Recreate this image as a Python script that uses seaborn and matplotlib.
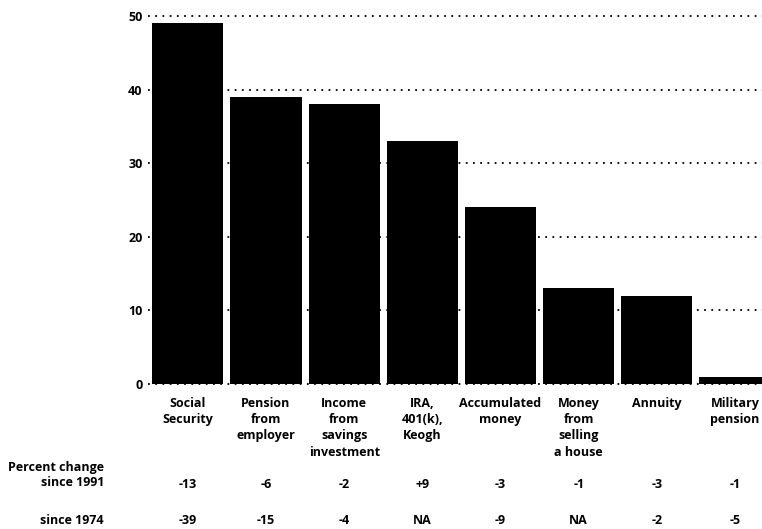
import matplotlib
matplotlib.use("Agg")
import matplotlib.pyplot as plt
import matplotlib.transforms as mtransforms
import seaborn as sns
import pandas as pd

# Share of retirees citing each source of retirement income (percent)
categories = [
    "Social\nSecurity",
    "Pension\nfrom\nemployer",
    "Income\nfrom\nsavings\ninvestment",
    "IRA,\n401(k),\nKeogh",
    "Accumulated\nmoney",
    "Money\nfrom\nselling\na house",
    "Annuity",
    "Military\npension",
]
shares = [49, 39, 38, 33, 24, 13, 12, 1]

# Percentage-point changes shown beneath each bar
change_since_1991 = ["-13", "-6", "-2", "+9", "-3", "-1", "-3", "-1"]
change_since_1974 = ["-39", "-15", "-4", "NA", "-9", "NA", "-2", "-5"]

y_ticks = [0, 10, 20, 30, 40, 50]

sns.set_theme(style="white", rc={"text.color": "black",
                                 "ytick.color": "black",
                                 "xtick.color": "black"})
plt.rcParams["font.family"] = ["Open Sans", "DejaVu Sans"]

FS = 9
W, H = 762, 529
fig = plt.figure(figsize=(W / 100, H / 100), dpi=100)
ax = fig.add_axes([148 / W, 1 - 384 / H, 1 - 148 / W, (384 - 16) / H])

df = pd.DataFrame({"source": categories, "share": shares})
sns.barplot(data=df, x="source", y="share", color="black", saturation=1,
            width=0.91, ax=ax, zorder=3)
for p in ax.patches:
    p.set_edgecolor("none")

ax.set_xlim(-0.51, 7.345)
ax.set_ylim(0, 50)
ax.set_yticks(y_ticks)
ax.set_yticklabels([str(t) for t in y_ticks], fontsize=FS, fontweight="bold",
                   color="black")
ax.tick_params(axis="y", length=0, pad=4)
ax.set_xticks([])
ax.set_xlabel("")
ax.set_ylabel("")
for s in ax.spines.values():
    s.set_visible(False)

# Dotted gridlines behind the bars
for t in y_ticks:
    ax.axhline(t, color="black", linewidth=1.3, linestyle=(0, (1, 3)),
               zorder=1, clip_on=False)

# Category labels and the change table under the bars
trans = mtransforms.blended_transform_factory(ax.transData, fig.transFigure)
for i, lab in enumerate(categories):
    ax.text(i, 1 - 397 / H, lab, transform=trans, ha="center", va="top",
            fontsize=FS, fontweight="bold", linespacing=1.32, color="black")
    ax.text(i, 1 - 484 / H, change_since_1991[i], transform=trans,
            ha="center", va="center", fontsize=FS, fontweight="bold",
            color="black")
    ax.text(i, 1 - 520 / H, change_since_1974[i], transform=trans,
            ha="center", va="center", fontsize=FS, fontweight="bold",
            color="black")

for label, ypx in [("Percent change", 467), ("since 1991", 483),
                   ("since 1974", 520)]:
    fig.text(104 / W, 1 - ypx / H, label, ha="right", va="center",
             fontsize=FS, fontweight="bold", color="black")

fig.savefig("out.png", dpi=100)
